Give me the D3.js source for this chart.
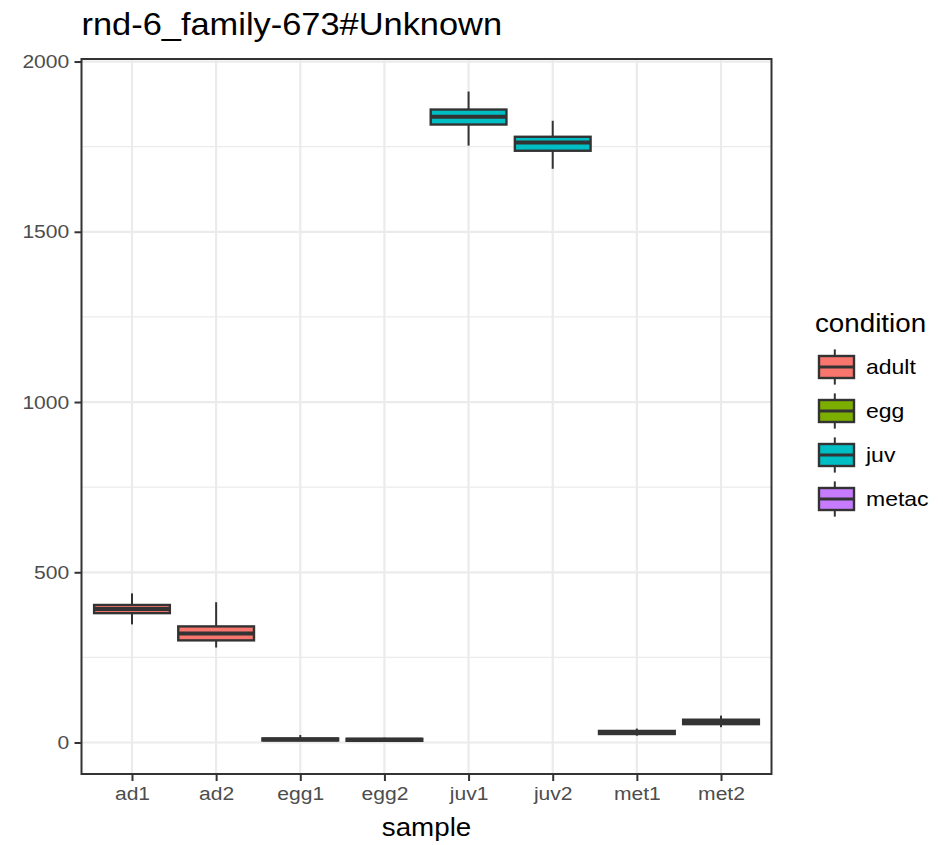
<!DOCTYPE html>
<html>
<head>
<meta charset="utf-8">
<script src="https://cdn.jsdelivr.net/npm/d3@7"></script>
<style>
  body { margin: 0; background: #fff; }
  text { font-family: "Liberation Sans", Arial, sans-serif; }
</style>
</head>
<body>
<div id="container"></div>
<script>
/* CONSTANTS AND GLOBALS */
const width = 943,
  height = 845;
const panel = { left: 81.5, right: 771.5, top: 59, bottom: 774 };
const stretch = 1.11; // reference text is a bit wider than Liberation Sans

/* DATA */
const samples = ["ad1", "ad2", "egg1", "egg2", "juv1", "juv2", "met1", "met2"];
const sampleCondition = ["adult", "adult", "egg", "egg", "juv", "juv", "metac", "metac"];
// five number summaries
const whiskerLow = [347, 279, 4, 3, 1753, 1685, 20, 45];
const q1 = [380, 300, 6, 5, 1815, 1738, 25, 54];
const medians = [392, 320, 9, 8, 1838, 1762, 29, 60];
const q3 = [404, 341, 12, 11, 1859, 1779, 34, 67];
const whiskerHigh = [438, 412, 22, 14, 1912, 1826, 41, 79];

const conditions = ["adult", "egg", "juv", "metac"];
const condColors = ["#F8766D", "#7CAE00", "#00BFC4", "#C77CFF"];
const yTicks = [0, 500, 1000, 1500, 2000];
const yMinor = [250, 750, 1250, 1750];

const boxes = samples.map((s, i) => ({
  sample: s,
  condition: sampleCondition[i],
  lo: whiskerLow[i], q1: q1[i], med: medians[i], q3: q3[i], hi: whiskerHigh[i]
}));

/* SCALES */
const lo = d3.min(whiskerLow), hi = d3.max(whiskerHigh);
const pad = (hi - lo) * 0.05;
const yScale = d3.scaleLinear()
  .domain([lo - pad, hi + pad])
  .range([panel.bottom, panel.top]);

const xScale = d3.scalePoint()
  .domain(samples)
  .range([panel.left, panel.right])
  .padding(0.6);

const color = d3.scaleOrdinal().domain(conditions).range(condColors);
const boxW = xScale.step() * 0.9;

const svg = d3.select("#container").append("svg")
  .attr("width", width)
  .attr("height", height);

/* GRID */
const grid = svg.append("g");
grid.selectAll("line.minor")
  .data(yMinor)
  .join("line")
  .attr("class", "minor")
  .attr("x1", panel.left).attr("x2", panel.right)
  .attr("y1", d => yScale(d)).attr("y2", d => yScale(d))
  .attr("stroke", "#EBEBEB").attr("stroke-width", 1.2);
grid.selectAll("line.majy")
  .data(yTicks)
  .join("line")
  .attr("class", "majy")
  .attr("x1", panel.left).attr("x2", panel.right)
  .attr("y1", d => yScale(d)).attr("y2", d => yScale(d))
  .attr("stroke", "#EBEBEB").attr("stroke-width", 2.2);
grid.selectAll("line.majx")
  .data(samples)
  .join("line")
  .attr("class", "majx")
  .attr("x1", d => xScale(d)).attr("x2", d => xScale(d))
  .attr("y1", panel.top).attr("y2", panel.bottom)
  .attr("stroke", "#EBEBEB").attr("stroke-width", 2.2);

/* BOXES */
const g = svg.append("g");
const bx = g.selectAll("g.box")
  .data(boxes)
  .join("g")
  .attr("class", "box");

bx.append("line")
  .attr("x1", d => xScale(d.sample)).attr("x2", d => xScale(d.sample))
  .attr("y1", d => yScale(d.hi)).attr("y2", d => yScale(d.q3))
  .attr("stroke", "#333333").attr("stroke-width", 2);
bx.append("line")
  .attr("x1", d => xScale(d.sample)).attr("x2", d => xScale(d.sample))
  .attr("y1", d => yScale(d.q1)).attr("y2", d => yScale(d.lo))
  .attr("stroke", "#333333").attr("stroke-width", 2);
bx.append("rect")
  .attr("x", d => xScale(d.sample) - boxW / 2)
  .attr("y", d => yScale(d.q3))
  .attr("width", boxW)
  .attr("height", d => yScale(d.q1) - yScale(d.q3))
  .attr("fill", d => color(d.condition))
  .attr("stroke", "#333333").attr("stroke-width", 2.4);
bx.append("line")
  .attr("x1", d => xScale(d.sample) - boxW / 2).attr("x2", d => xScale(d.sample) + boxW / 2)
  .attr("y1", d => yScale(d.med)).attr("y2", d => yScale(d.med))
  .attr("stroke", "#333333").attr("stroke-width", 4);

/* PANEL BORDER + AXES */
svg.append("rect")
  .attr("x", panel.left).attr("y", panel.top)
  .attr("width", panel.right - panel.left)
  .attr("height", panel.bottom - panel.top)
  .attr("fill", "none")
  .attr("stroke", "#333333").attr("stroke-width", 2);

const yAxis = d3.axisLeft(yScale).tickValues(yTicks).tickFormat(d3.format("d")).tickSize(7).tickPadding(4);
const xAxis = d3.axisBottom(xScale).tickSize(7).tickPadding(6);

const ya = svg.append("g").attr("transform", `translate(${panel.left},0)`).call(yAxis);
const xa = svg.append("g").attr("transform", `translate(0,${panel.bottom})`).call(xAxis);
[ya, xa].forEach(a => {
  a.select(".domain").remove();
  a.selectAll(".tick line").attr("stroke", "#333333").attr("stroke-width", 2);
  a.selectAll(".tick text")
    .attr("fill", "#4D4D4D")
    .attr("transform", `scale(${stretch},1)`)
    .style("font-size", "19px")
    .style("font-family", "Liberation Sans, Arial, sans-serif");
});

/* TEXT */
svg.append("text")
  .attr("transform", `translate(${panel.left},35) scale(${stretch},1)`)
  .style("font-size", "31px")
  .attr("fill", "#000")
  .text("rnd-6_family-673#Unknown");

svg.append("text")
  .attr("transform", `translate(${(panel.left + panel.right) / 2},836) scale(${stretch},1)`)
  .attr("text-anchor", "middle")
  .style("font-size", "25px")
  .text("sample");

/* LEGEND */
const keySize = 44;
const leg = svg.append("g").attr("transform", "translate(815,345)");
leg.append("text")
  .attr("transform", `translate(0,-13) scale(${stretch},1)`)
  .style("font-size", "25px")
  .text("condition");

const item = leg.selectAll("g.item")
  .data(conditions)
  .join("g")
  .attr("class", "item")
  .attr("transform", (d, i) => `translate(0,${i * keySize})`);

item.append("line")
  .attr("x1", keySize * 0.45).attr("x2", keySize * 0.45)
  .attr("y1", keySize * 0.1).attr("y2", keySize * 0.9)
  .attr("stroke", "#333333").attr("stroke-width", 2);
item.append("rect")
  .attr("x", 4).attr("y", keySize * 0.25)
  .attr("width", 35).attr("height", keySize * 0.5)
  .attr("fill", d => color(d))
  .attr("stroke", "#333333").attr("stroke-width", 2.4);
item.append("line")
  .attr("x1", 4).attr("x2", 39)
  .attr("y1", keySize / 2).attr("y2", keySize / 2)
  .attr("stroke", "#333333").attr("stroke-width", 3);
item.append("text")
  .attr("transform", `translate(51,${keySize / 2}) scale(1.15,1)`)
  .attr("dy", "0.35em")
  .style("font-size", "20px")
  .text(d => d);
</script>
</body>
</html>
